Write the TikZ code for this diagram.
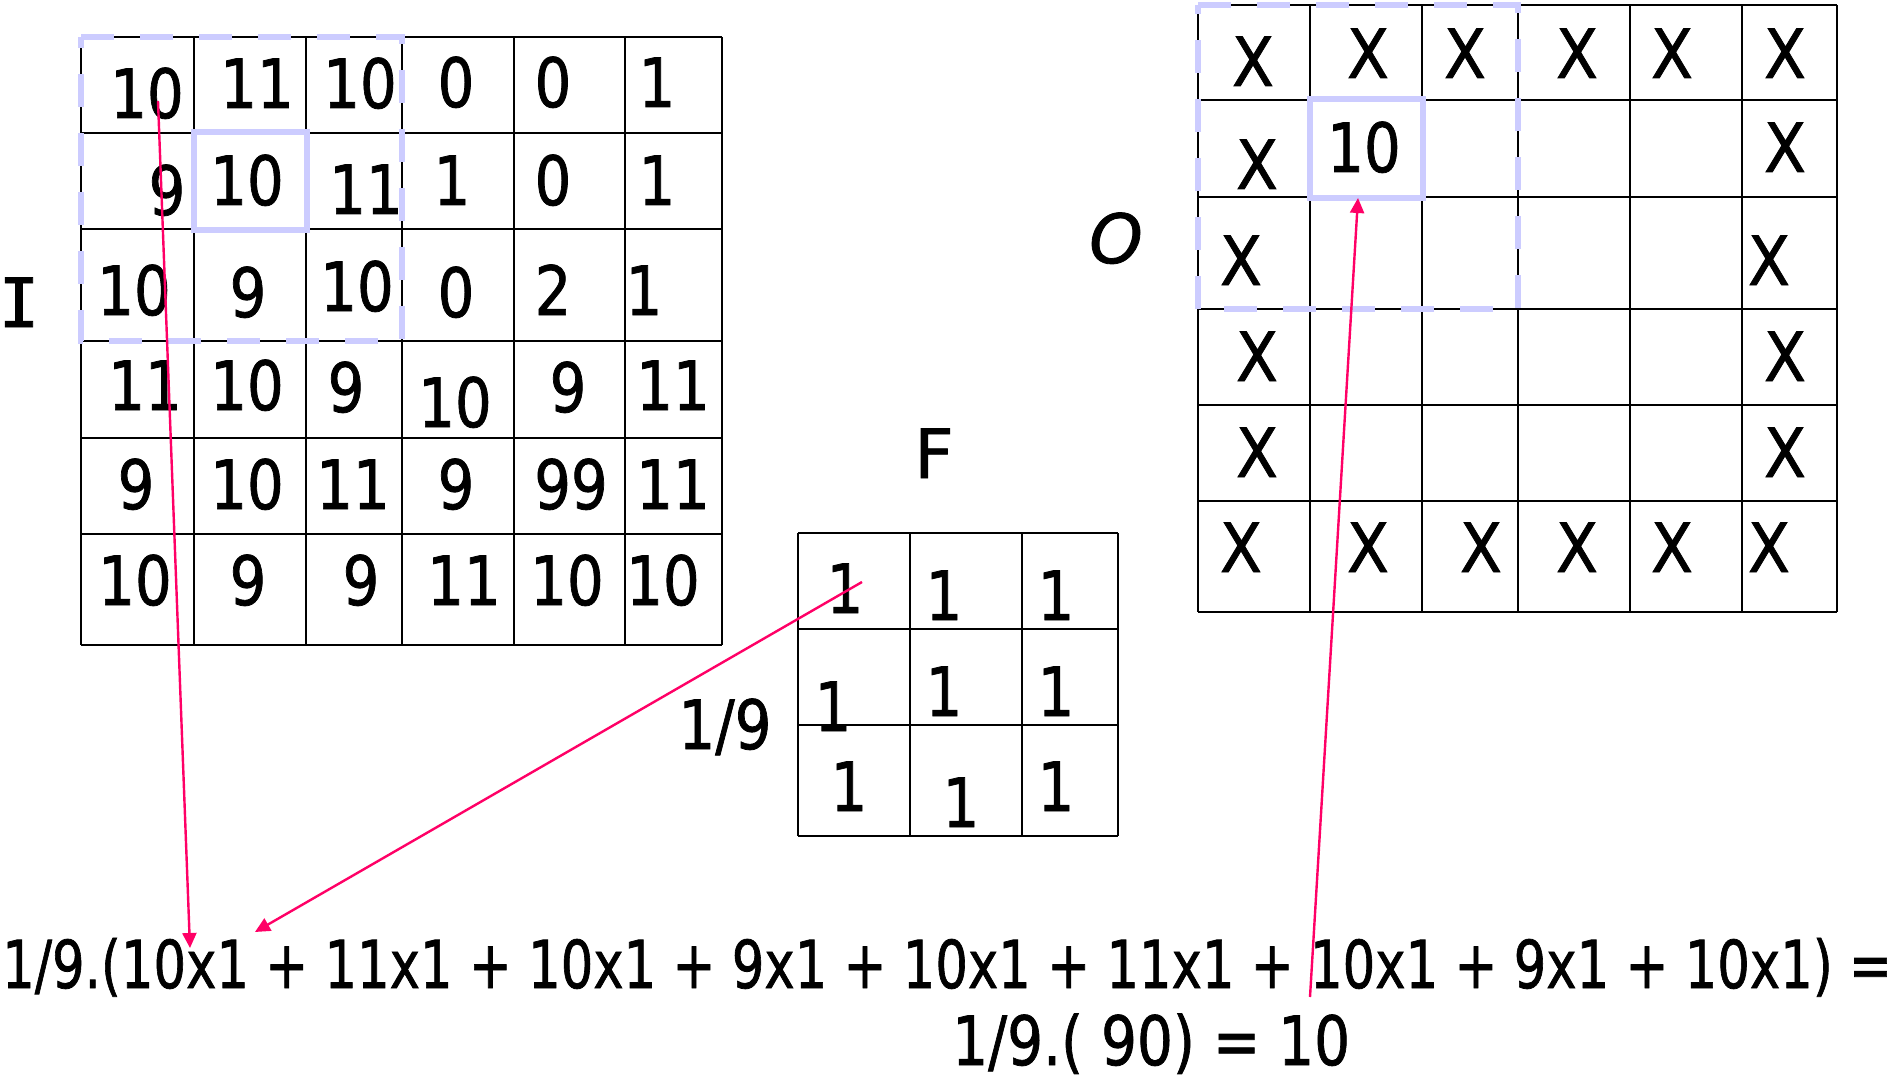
\documentclass[tikz,border=0pt]{standalone}
\usepackage{graphicx}
\usepackage{fontspec}
\setmainfont{DejaVu Sans}[FakeBold=1.2]
\newfontfamily\monofnt{DejaVu Sans Mono}[FakeBold=1.2]
\usetikzlibrary{arrows.meta}
\definecolor{lav}{HTML}{CCCCFF}
\definecolor{pinkarr}{HTML}{FF0066}
\newcommand{\nsq}[1]{\scalebox{0.85}[1]{#1}}

\begin{document}
\begin{tikzpicture}[x=1pt,y=-1pt,
  gridline/.style={line width=1.8pt, black},
  lavdash/.style={draw=lav, line width=6.5pt, dash pattern=on 33pt off 26pt},
  lavbox/.style={draw=lav, line width=6.5pt},
  num/.style={inner sep=0pt, anchor=base, font=\fontsize{68}{80}\selectfont},
  ptr/.style={draw=pinkarr, line width=2.4pt, -{Triangle[length=15pt,width=14pt]}},
]
\useasboundingbox (0,0) rectangle (1899,1078);

% ---------- I grid ----------
\foreach \x in {81,194,306,402,514,625,722} \draw[gridline] (\x,37) -- (\x,645);
\foreach \y in {37,133,229,341,438,534,645} \draw[gridline] (81,\y) -- (722,\y);

% ---------- F grid ----------
\foreach \x in {798,910,1022,1118} \draw[gridline] (\x,533) -- (\x,836);
\foreach \y in {533,629,725,836} \draw[gridline] (798,\y) -- (1118,\y);

% ---------- O grid ----------
\foreach \x in {1198,1310,1422,1518,1630,1742,1837} \draw[gridline] (\x,5) -- (\x,612);
\foreach \y in {5,100,197,309,405,501,612} \draw[gridline] (1198,\y) -- (1837,\y);

% ---------- lavender windows ----------
\draw[lavdash] (81,37) -- (402,37) -- (402,341) -- (81,341) -- cycle;
\draw[lavbox] (194,132) rectangle (307,230);
\draw[lavdash] (1198,5) -- (1518,5) -- (1518,309) -- (1198,309) -- cycle;
\draw[lavbox] (1310,99) rectangle (1423,198);

% ---------- I values ----------
\foreach \n/\x/\y/\t in {
  11/147/118/10, 12/257/108/11, 13/360/108/10, 14/456/107/0, 15/553/107/0, 16/657/107/1,
  21/167/215/9, 22/247/205/10, 23/366/214/11, 24/452/205/1, 25/553/205/0, 26/657/205/1,
  31/134/315/10, 32/248/317/9, 33/357/311/10, 34/456/317/0, 35/553/315/2, 36/644/315/1,
  41/145/410/11, 42/247/410/10, 43/346/412/9, 44/455/427/10, 45/568/412/9, 46/673/410/11,
  51/136/509/9, 52/247/509/10, 53/353/509/11, 54/456/509/9, 55/571/509/99, 56/673/509/11,
  61/135/605/10, 62/248/605/9, 63/361/605/9, 64/464/605/11, 65/567/605/10, 66/663/605/10}
  \node[num] (I-\n) at (\x,\y) {\nsq{\t}};
\node[inner sep=0pt, anchor=base, font=\monofnt\fontsize{68}{80}\selectfont] (labI) at (19,327) {I};

% ---------- F values ----------
\foreach \n/\x/\y in {11/845/613, 12/944/620, 13/1056/620,
  21/833/731, 22/944/716, 23/1056/716,
  31/849/811, 32/961/827, 33/1056/811}
  \node[num] (F-\n) at (\x,\y) {\nsq{1}};
\node[num] (labF) at (934,478) {F};
\node[num] (frac) at (725,749) {\nsq{1/9}};

% ---------- O values ----------
\foreach \n/\x/\y in {11/1253/86, 12/1368/78, 13/1465/78, 14/1577/78, 15/1672/78, 16/1785/78,
  21/1257/189, 26/1785/172,
  31/1241/285, 36/1769/285,
  41/1257/381, 46/1785/381,
  51/1257/477, 56/1785/477,
  61/1241/572, 62/1368/572, 63/1481/572, 64/1577/572, 65/1672/572, 66/1769/572}
  \node[num] (O-\n) at (\x,\y) {\scalebox{0.9}[1]{X}};
\node[num] (O-22) at (1364,172) {\nsq{10}};
\node[num, font=\fontsize{68}{80}\selectfont\itshape] (labO) at (1116,263) {O};

% ---------- equation ----------
\node[inner sep=0pt, anchor=base west, font=\fontsize{66}{80}\selectfont] (eq1) at (2,988)
  {\resizebox{1890pt}{\height}{1/9.(10x1 + 11x1 + 10x1 + 9x1 + 10x1 + 11x1 + 10x1 + 9x1 + 10x1) =}};
\node[inner sep=0pt, anchor=base west, font=\fontsize{68}{80}\selectfont] (eq2) at (952,1065)
  {\resizebox{398pt}{\height}{1/9.( 90) = 10}};

% ---------- arrows ----------
\coordinate (a1s) at (158,101);
\coordinate (a1e) at (190,948);
\coordinate (a2s) at (862,582);
\coordinate (a2e) at (255,932);
\coordinate (a3s) at (1310,997);
\coordinate (a3e) at (1358,198);
\draw[ptr] (a1s) -- (a1e);
\draw[ptr] (a2s) -- (a2e);
\draw[ptr] (a3s) -- (a3e);
\end{tikzpicture}
\end{document}
